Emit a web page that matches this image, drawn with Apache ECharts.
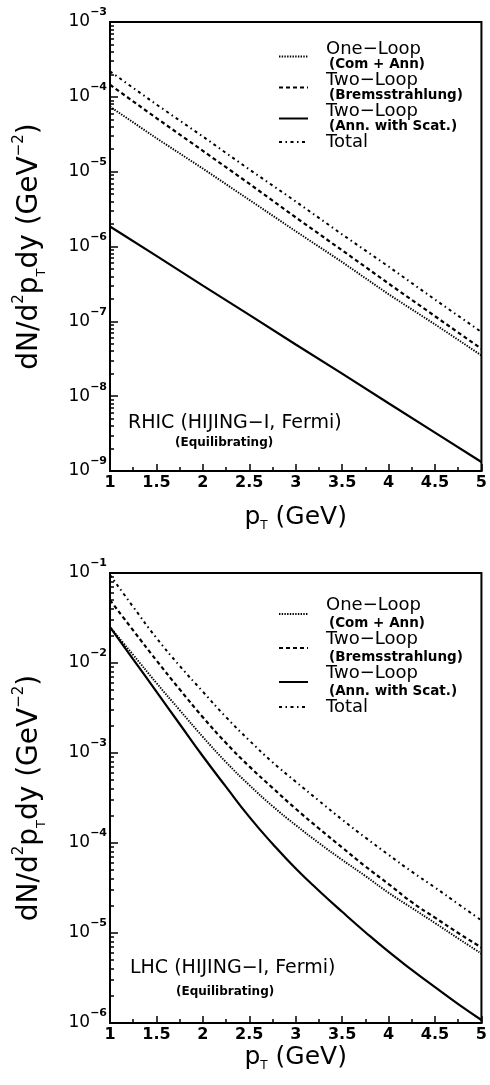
<!DOCTYPE html>
<html>
<head>
<meta charset="utf-8">
<script src="https://cdn.jsdelivr.net/npm/echarts@6/dist/echarts.min.js"></script>
<style>
  html, body { margin: 0; padding: 0; background: #fff; }
  #chart { width: 490px; height: 1085px; }
</style>
</head>
<body>
<div id="chart"></div>
<script>
// photon yields dN/d2pTdy (GeV^-2)
// RHIC panel
var ptRhic = [1, 1.5, 2, 2.5, 3, 3.5, 4, 4.5, 5];
var rhicOneLoop = [7.4e-5, 2.8e-5, 1.1e-5, 4.2e-6, 1.6e-6, 6.2e-7, 2.3e-7, 9.1e-8, 3.5e-8];
var rhicBrems   = [1.45e-4, 5.2e-5, 1.9e-5, 6.9e-6, 2.45e-6, 8.9e-7, 3.2e-7, 1.17e-7, 4.3e-8];
var rhicAnnScat = [1.85e-6, 7.5e-7, 3.0e-7, 1.22e-7, 4.9e-8, 2.0e-8, 8.05e-9, 3.26e-9, 1.32e-9];
var rhicTotal   = [2.19e-4, 7.9e-5, 2.95e-5, 1.07e-5, 4.0e-6, 1.45e-6, 5.4e-7, 1.95e-7, 7.2e-8];

// LHC panel
var ptLhc = [1, 1.25, 1.5, 1.75, 2, 2.25, 2.5, 2.75, 3, 3.25, 3.5, 3.75, 4, 4.25, 4.5, 4.75, 5];
var lhcOneLoop = [2.5e-2, 1.23e-2, 6.0e-3, 3.0e-3, 1.51e-3, 7.9e-4, 4.4e-4, 2.57e-4, 1.58e-4, 1.0e-4, 6.5e-5, 4.3e-5, 2.8e-5, 1.9e-5, 1.29e-5, 8.7e-6, 5.9e-6];
var lhcBrems   = [5.0e-2, 2.3e-2, 1.07e-2, 5.1e-3, 2.5e-3, 1.29e-3, 7.1e-4, 4.1e-4, 2.4e-4, 1.45e-4, 8.9e-5, 5.5e-5, 3.5e-5, 2.2e-5, 1.48e-5, 1.0e-5, 6.9e-6];
var lhcAnnScat = [2.5e-2, 1.1e-2, 4.8e-3, 2.1e-3, 9.2e-4, 4.2e-4, 1.95e-4, 9.8e-5, 5.2e-5, 2.95e-5, 1.72e-5, 1.02e-5, 6.2e-6, 3.9e-6, 2.5e-6, 1.62e-6, 1.08e-6];
var lhcTotal   = [9.5e-2, 4.2e-2, 1.9e-2, 9.3e-3, 4.8e-3, 2.5e-3, 1.38e-3, 7.9e-4, 4.8e-4, 2.95e-4, 1.82e-4, 1.15e-4, 7.4e-5, 4.8e-5, 3.2e-5, 2.1e-5, 1.38e-5];

var seriesNames = ['One-Loop (Com + Ann)', 'Two-Loop (Bremsstrahlung)', 'Two-Loop (Ann. with Scat.)', 'Total'];
var rhicExp = [-9, -3];   // y range, powers of ten
var lhcExp = [-6, -1];

var FONT = 'DejaVu Sans';

function pairs(xs, ys) {
  var out = [];
  for (var i = 0; i < xs.length; i++) out.push([xs[i], ys[i]]);
  return out;
}
function decades(lo, hi) {
  var v = [];
  for (var e = lo; e <= hi; e++) v.push(Math.pow(10, e));
  return v;
}
function minors(lo, hi) {
  var v = [];
  for (var e = lo; e < hi; e++)
    for (var k = 2; k <= 9; k++) v.push(k * Math.pow(10, e));
  return v;
}

// line looks for the four curves
var styles = [
  { width: 1.9, type: [1.4, 1.3] },          // dotted
  { width: 2.2, type: [4, 3] },              // dashed
  { width: 2.2, type: 'solid' },             // solid
  { width: 2, type: [3, 3.5, 1.5, 3.5] }     // dash-dot
];

function makeSeries(gi, xs, lists) {
  return lists.map(function (ys, i) {
    return {
      type: 'line',
      name: seriesNames[i],
      xAxisIndex: gi,
      yAxisIndex: gi * 2,
      data: pairs(xs, ys),
      symbol: 'none',
      smooth: gi === 1 ? 0.5 : false,
      lineStyle: { color: '#000', width: styles[i].width, type: styles[i].type },
      itemStyle: { color: '#000' },
      silent: true,
      z: 3
    };
  });
}

function xAxisFor(gi, gap) {
  return {
    type: 'value', gridIndex: gi, min: 1, max: 5, interval: 0.5,
    axisLine: { lineStyle: { color: '#000', width: 2 } },
    axisTick: { inside: true, length: 7, lineStyle: { color: '#000', width: 1.5 } },
    minorTick: { show: true, splitNumber: 2, length: 4, lineStyle: { color: '#000', width: 1.5 } },
    splitLine: { show: false },
    axisLabel: {
      margin: 4, fontFamily: FONT, fontSize: 16, fontWeight: 'bold', color: '#000',
      formatter: function (v) { return String(v); }
    },
    name: '{a|p}{sub|T}{a| (GeV)}',
    nameLocation: 'middle',
    nameGap: gap,
    nameTextStyle: {
      rich: {
        a: { fontFamily: FONT, fontSize: 25, lineHeight: 30, color: '#000' },
        sub: { fontFamily: FONT, fontSize: 12, lineHeight: 12, verticalAlign: 'bottom', color: '#000' }
      }
    }
  };
}

function yAxesFor(gi, exps) {
  var main = {
    type: 'log', logBase: 10, gridIndex: gi,
    min: Math.pow(10, exps[0]), max: Math.pow(10, exps[1]),
    axisLine: { lineStyle: { color: '#000', width: 2 } },
    axisTick: { inside: true, length: 8, customValues: decades(exps[0], exps[1]), lineStyle: { color: '#000', width: 1.5 } },
    splitLine: { show: false },
    axisLabel: {
      margin: 3,
      customValues: decades(exps[0], exps[1]),
      formatter: function (v) {
        var e = Math.round(Math.log(v) / Math.LN10);
        return '{b|10}{s|' + String(e).replace('-', '−') + '}';
      },
      rich: {
        b: { fontFamily: FONT, fontSize: 17, lineHeight: 30, color: '#000' },
        s: { fontFamily: FONT, fontSize: 11, fontWeight: 'bold', lineHeight: 12, verticalAlign: 'top', color: '#000' }
      }
    },
    name: '{a|dN/d}{sup|2}{a|p}{sub|T}{a|dy (GeV}{sup|−2}{a|)}',
    nameLocation: 'middle',
    nameRotate: 90,
    nameGap: 62,
    nameTextStyle: {
      rich: {
        a: { fontFamily: FONT, fontSize: 28, lineHeight: 36, color: '#000' },
        sup: { fontFamily: FONT, fontSize: 15, lineHeight: 15, verticalAlign: 'top', color: '#000' },
        sub: { fontFamily: FONT, fontSize: 13, lineHeight: 13, verticalAlign: 'bottom', color: '#000' }
      }
    }
  };
  var minor = {
    type: 'log', logBase: 10, gridIndex: gi,
    min: Math.pow(10, exps[0]), max: Math.pow(10, exps[1]),
    position: 'left',
    axisLine: { show: false },
    axisTick: { inside: true, length: 4, customValues: minors(exps[0], exps[1]), lineStyle: { color: '#000', width: 1.5 } },
    axisLabel: { show: false },
    splitLine: { show: false }
  };
  return [main, minor];
}

function legendFor(top, lh) {
  return {
    orient: 'vertical', left: 278, top: top, padding: 0,
    itemWidth: 29, itemHeight: 10, itemGap: 0,
    itemStyle: { opacity: 0 },
    selectedMode: false,
    data: seriesNames,
    formatter: function (name) {
      var i = name.indexOf(' (');
      if (i < 0) return '{a|' + name.replace('-', '−') + '}';
      return '{a|' + name.slice(0, i).replace('-', '−') + '}\n{b|' + name.slice(i + 1) + '}';
    },
    textStyle: {
      rich: {
        a: { fontFamily: FONT, fontSize: 18, lineHeight: lh, color: '#000', padding: [0, 0, 0, 13] },
        b: { fontFamily: FONT, fontSize: 13.5, fontWeight: 'bold', lineHeight: lh, color: '#000', padding: [0, 0, 0, 16] }
      }
    }
  };
}

function note(x, y, text, size, bold) {
  return {
    type: 'text', left: x, top: y,
    style: { text: text, fontFamily: FONT, fontSize: size, fontWeight: bold ? 'bold' : 'normal', fill: '#000' }
  };
}

var chart = echarts.init(document.getElementById('chart'), null, { renderer: 'canvas' });

chart.setOption({
  backgroundColor: '#fff',
  animation: false,
  grid: [
    { left: 110, top: 22, width: 374, height: 449, show: true, borderColor: '#000', borderWidth: 2, backgroundColor: 'transparent' },
    { left: 110, top: 573, width: 374, height: 450, show: true, borderColor: '#000', borderWidth: 2, backgroundColor: 'transparent' }
  ],
  xAxis: [xAxisFor(0, 31), xAxisFor(1, 19)],
  yAxis: yAxesFor(0, rhicExp).concat(yAxesFor(1, lhcExp)),
  legend: [legendFor(40, 15), legendFor(596, 18)],
  series: makeSeries(0, ptRhic, [rhicOneLoop, rhicBrems, rhicAnnScat, rhicTotal])
    .concat(makeSeries(1, ptLhc, [lhcOneLoop, lhcBrems, lhcAnnScat, lhcTotal])),
  graphic: [
    note(128, 414, 'RHIC (HIJING−I, Fermi)', 19, false),
    note(175, 437, '(Equilibrating)', 12, true),
    note(130, 959, 'LHC (HIJING−I, Fermi)', 19, false),
    note(176, 986, '(Equilibrating)', 12, true)
  ]
});
</script>
</body>
</html>
